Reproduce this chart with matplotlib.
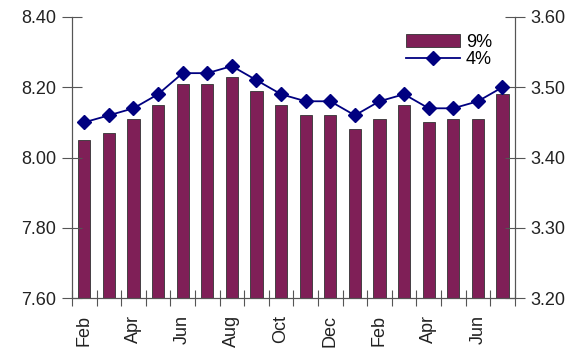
import matplotlib
matplotlib.use("Agg")
import matplotlib.pyplot as plt
import numpy as np

plt.rcParams['font.family'] = ['Liberation Sans', 'DejaVu Sans']

months = ["Feb", "Mar", "Apr", "May", "Jun", "Jul", "Aug", "Sep", "Oct", "Nov", "Dec",
          "Jan", "Feb", "Mar", "Apr", "May", "Jun", "Jul"]
bars_9 = [8.05, 8.07, 8.11, 8.15, 8.21, 8.21, 8.23, 8.19, 8.15, 8.12, 8.12,
          8.08, 8.11, 8.15, 8.10, 8.11, 8.11, 8.18]
line_4 = [3.45, 3.46, 3.47, 3.49, 3.52, 3.52, 3.53, 3.51, 3.49, 3.48, 3.48,
          3.46, 3.48, 3.49, 3.47, 3.47, 3.48, 3.50]
left_ticks = [7.60, 7.80, 8.00, 8.20, 8.40]
right_ticks = [3.20, 3.30, 3.40, 3.50, 3.60]

FS = 13
fig = plt.figure(figsize=(5.85, 3.52), dpi=100)
ax = fig.add_axes([0.123, 0.153, 0.757, 0.799])
x = np.arange(len(months))
b = ax.bar(x, bars_9, width=0.5, color="#7f1f57", edgecolor="#333333", linewidth=0.6,
           label="9%")
ax.set_ylim(7.60, 8.40)
ax.set_xlim(-0.5, len(months) - 0.5)
ax.set_yticks(left_ticks)
ax.set_yticklabels([f"{v:.2f}" for v in left_ticks], fontsize=FS, color="#222222")

ax2 = ax.twinx()
l, = ax2.plot(x, line_4, color="#000080", marker="D", markersize=7.5, linewidth=1.3, label="4%")
ax2.set_ylim(3.20, 3.60)
ax2.set_yticks(right_ticks)
ax2.set_yticklabels([f"{v:.2f}" for v in right_ticks], fontsize=FS, color="#222222")

for a in (ax, ax2):
    a.spines['top'].set_visible(False)
    a.spines['left'].set_color("#555555")
    a.spines['right'].set_color("#555555")
    a.spines['bottom'].set_color("#555555")
    a.tick_params(axis='y', direction='inout', length=15, color="#555555", pad=4)

ax.set_xticks(np.arange(-0.5, len(months), 1.0), minor=False)
ax.set_xticklabels([])
ax.tick_params(axis='x', direction='inout', length=12, color="#555555")
ax.set_xticks(x[::2], minor=True)
ax.set_xticklabels([months[i] for i in x[::2]], minor=True, rotation=90, fontsize=FS,
                   color="#222222")
ax.tick_params(axis='x', which='minor', length=0, pad=12)

ax2.legend([b, l], ["9%", "4%"], loc="upper left", bbox_to_anchor=(0.755, 0.94),
           frameon=False, fontsize=FS, handlelength=3.0, handletextpad=0.3,
           labelspacing=0.02, borderpad=0, borderaxespad=0)

fig.savefig("out.png", dpi=100)
